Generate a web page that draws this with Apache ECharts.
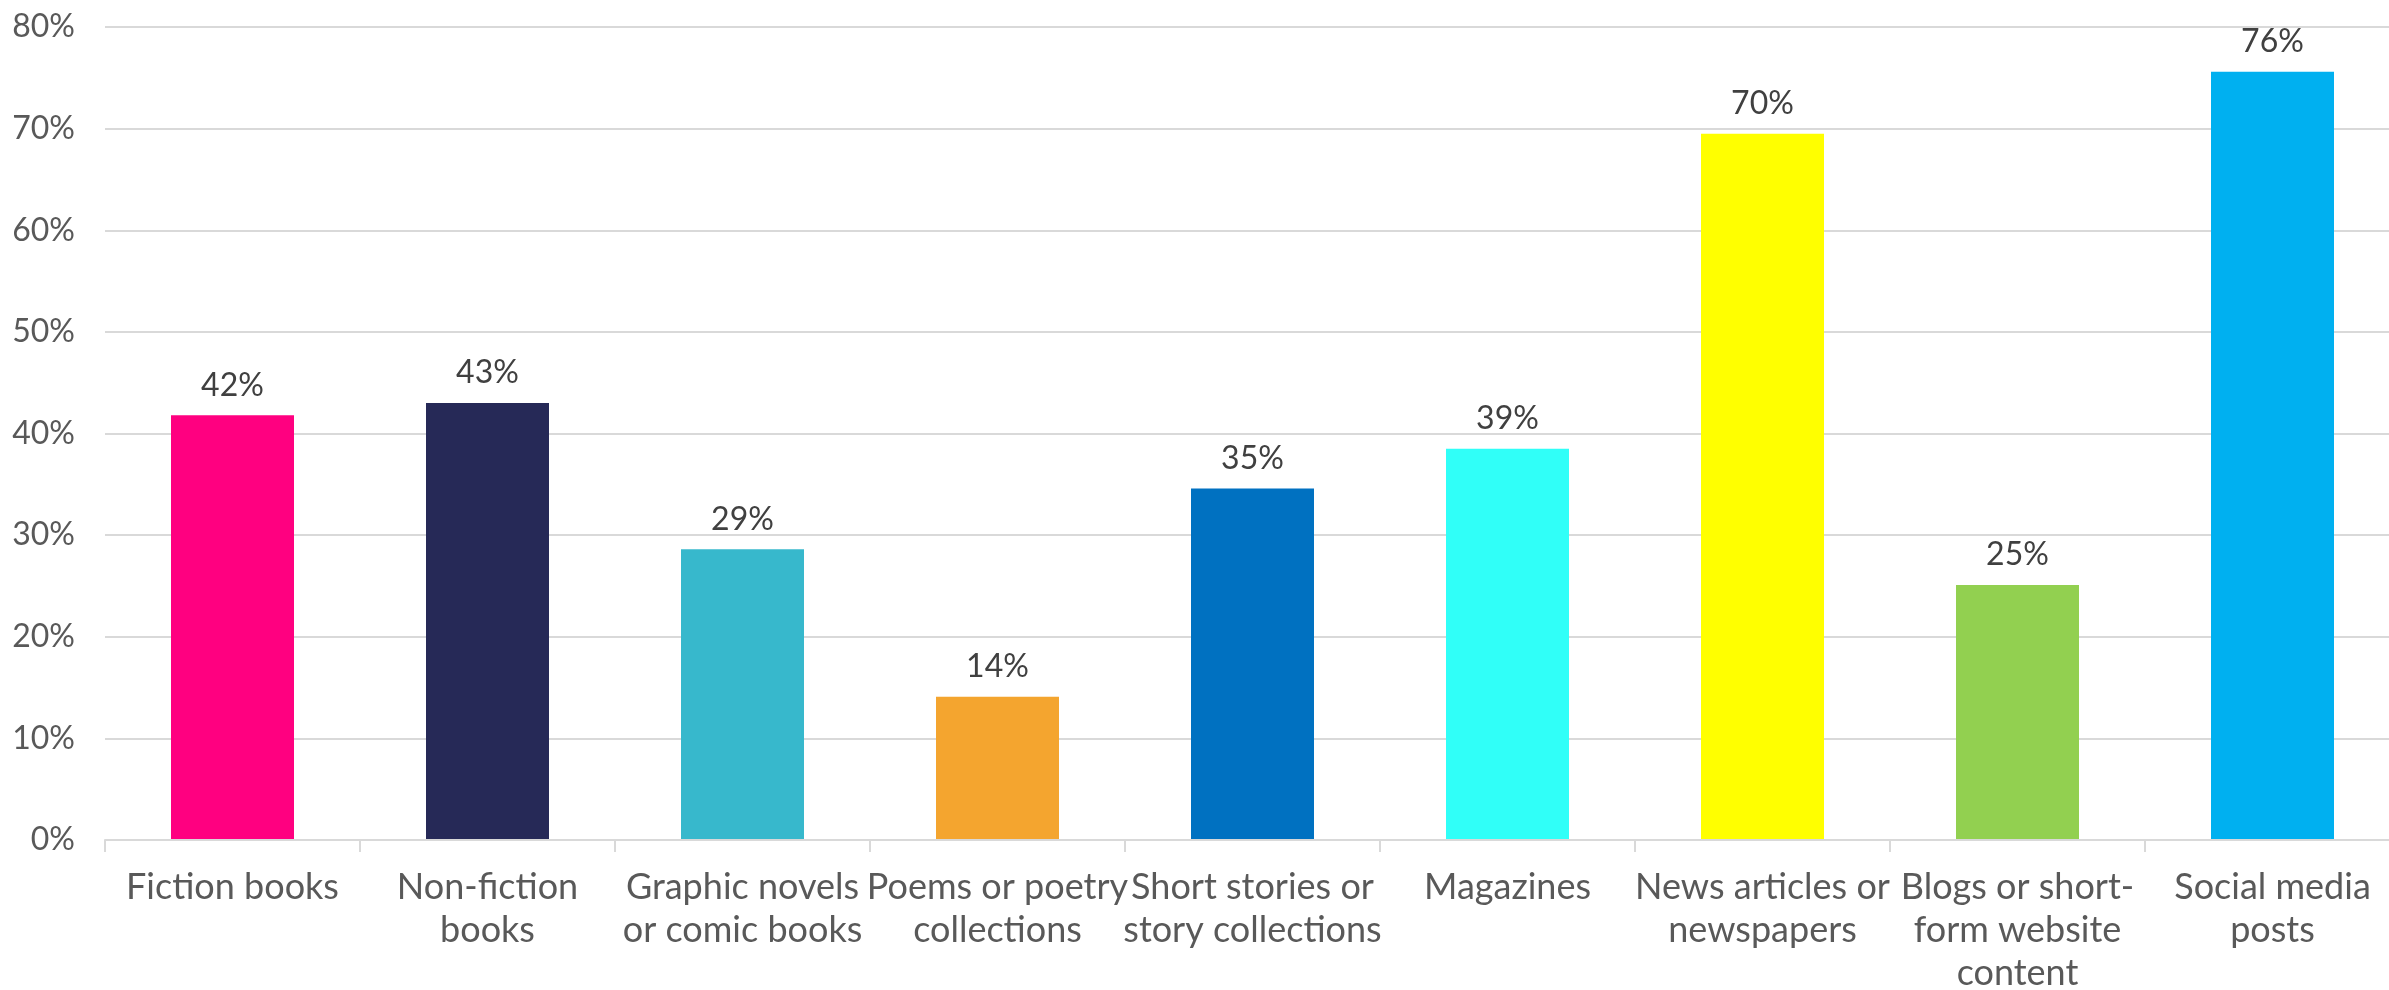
<!DOCTYPE html>
<html>
<head>
<meta charset="utf-8">
<script src="https://cdn.jsdelivr.net/npm/echarts@6/dist/echarts.min.js"></script>
<style>
html,body{margin:0;padding:0;background:#fff;}
#chart{width:2389px;height:990px;}
</style>
</head>
<body>
<div id="chart"></div>
<script>
const categories = [
  "Fiction books",
  "Non-fiction\nbooks",
  "Graphic novels\nor comic books",
  "Poems or poetry\ncollections",
  "Short stories or\nstory collections",
  "Magazines",
  "News articles or\nnewspapers",
  "Blogs or short-\nform website\ncontent",
  "Social media\nposts"
];
const values = [41.8, 43.0, 28.6, 14.1, 34.6, 38.5, 69.5, 25.1, 75.6];
const colors = ["#FF0080", "#262957", "#37B8CC", "#F4A52F", "#0071C1", "#30FFF8", "#FFFF00", "#92D050", "#00B0F0"];

const chart = echarts.init(document.getElementById('chart'), null, {renderer: 'canvas'});
const font = 'Lato';
chart.setOption({
  animation: false,
  backgroundColor: '#ffffff',
  grid: {left: 105, right: -11, top: 27, bottom: 150, containLabel: false, outerBoundsMode: 'none'},
  xAxis: {
    type: 'category',
    data: categories,
    z: 3,
    axisLine: {show: true, lineStyle: {color: '#d9d9d9', width: 2}},
    axisTick: {show: true, alignWithLabel: false, length: 12, lineStyle: {color: '#d9d9d9', width: 2}},
    axisLabel: {interval: 0, margin: 26, color: '#595959', fontFamily: font, fontSize: 36, lineHeight: 43}
  },
  yAxis: {
    type: 'value',
    min: 0, max: 80, interval: 10,
    axisLine: {show: false},
    axisTick: {show: false},
    splitLine: {lineStyle: {color: '#d9d9d9', width: 2}},
    axisLabel: {formatter: '{value}%', margin: 30, color: '#595959', fontFamily: font, fontSize: 32}
  },
  series: [{
    type: 'bar',
    barWidth: 123,
    data: values.map((v, i) => ({value: v, itemStyle: {color: colors[i]}})),
    label: {
      show: true, position: 'top', distance: 14,
      formatter: p => Math.round(p.value) + '%',
      color: '#404040', fontFamily: font, fontSize: 32
    }
  }]
});
</script>
</body>
</html>
